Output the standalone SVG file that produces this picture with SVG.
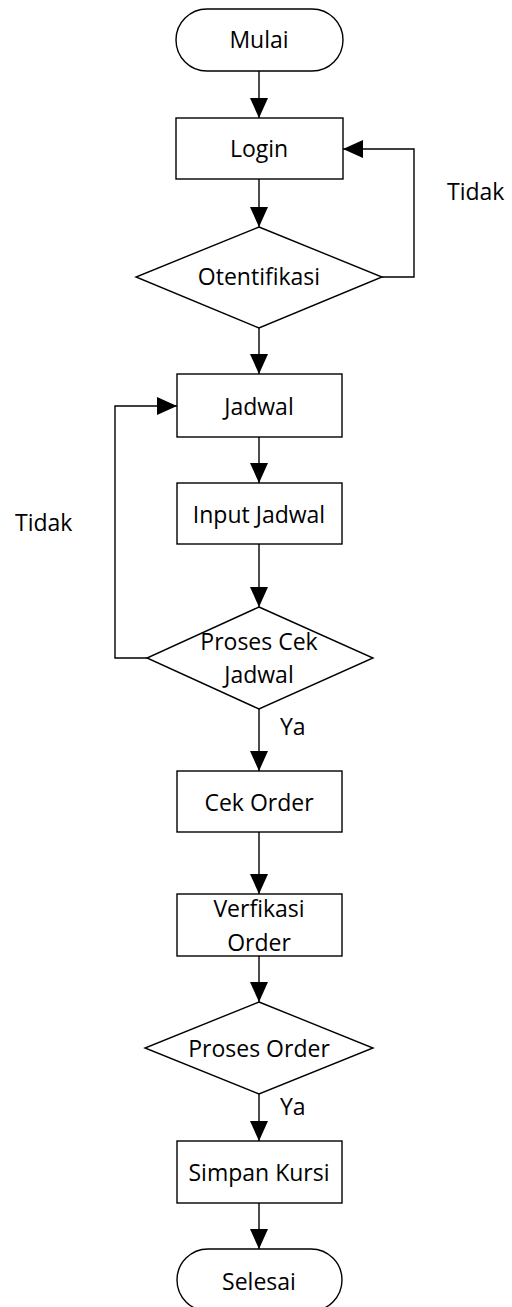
<svg xmlns="http://www.w3.org/2000/svg" width="512" height="1307" viewBox="0 0 512 1307">
<style>
.s{fill:#fff;stroke:#000;stroke-width:1.4}
.t{font-family:"Open Sans",sans-serif;font-size:23px;fill:#000;text-anchor:middle}
.l{font-family:"Open Sans",sans-serif;font-size:23px;fill:#000}
.c{fill:none;stroke:#000;stroke-width:1.4}
</style>
<defs>
<marker id="a" markerUnits="userSpaceOnUse" markerWidth="20" markerHeight="18" viewBox="0 0 20 18" refX="20" refY="9" orient="auto">
<path d="M0,0 L20,9 L0,18 Z" fill="#000"/>
</marker>
</defs>
<g id="connectors">
<path class="c" d="M259,71 V118" marker-end="url(#a)"/>
<path class="c" d="M259,179 V227" marker-end="url(#a)"/>
<path class="c" d="M382,277 H414 V149 H343" marker-end="url(#a)"/>
<path class="c" d="M259,328 V374" marker-end="url(#a)"/>
<path class="c" d="M259,437 V483" marker-end="url(#a)"/>
<path class="c" d="M259,544 V607" marker-end="url(#a)"/>
<path class="c" d="M147,658 H115 V406 H177" marker-end="url(#a)"/>
<path class="c" d="M259,709 V771" marker-end="url(#a)"/>
<path class="c" d="M259,832 V894" marker-end="url(#a)"/>
<path class="c" d="M259,956 V1002" marker-end="url(#a)"/>
<path class="c" d="M259,1094 V1141" marker-end="url(#a)"/>
<path class="c" d="M259,1203 V1249" marker-end="url(#a)"/>
<text class="l" x="447" y="200">Tidak</text>
<text class="l" x="15" y="531">Tidak</text>
<text class="l" x="280" y="735">Ya</text>
<text class="l" x="280" y="1115">Ya</text>
</g>
<g id="mulai"><rect class="s" x="176" y="9" width="167" height="62" rx="31"/><text class="t" x="259" y="48">Mulai</text></g>
<g id="login"><rect class="s" x="176" y="118" width="167" height="61"/><text class="t" x="259" y="157">Login</text></g>
<g id="otentifikasi"><polygon class="s" points="259,227 382,277 259,328 136,277"/><text class="t" x="259" y="285">Otentifikasi</text></g>
<g id="jadwal"><rect class="s" x="177" y="374" width="165" height="63"/><text class="t" x="259" y="415">Jadwal</text></g>
<g id="input-jadwal"><rect class="s" x="177" y="483" width="165" height="61"/><text class="t" x="259" y="523">Input Jadwal</text></g>
<g id="proses-cek-jadwal"><polygon class="s" points="259,607 373,658 259,709 147,658"/><text class="t" x="259" y="650">Proses Cek</text><text class="t" x="259" y="683">Jadwal</text></g>
<g id="cek-order"><rect class="s" x="177" y="771" width="165" height="61"/><text class="t" x="259" y="811">Cek Order</text></g>
<g id="verfikasi-order"><rect class="s" x="177" y="894" width="165" height="62"/><text class="t" x="259" y="917">Verfikasi</text><text class="t" x="259" y="951">Order</text></g>
<g id="proses-order"><polygon class="s" points="259,1002 373,1048 259,1094 145,1048"/><text class="t" x="259" y="1057">Proses Order</text></g>
<g id="simpan-kursi"><rect class="s" x="177" y="1141" width="165" height="62"/><text class="t" x="259" y="1181">Simpan Kursi</text></g>
<g id="selesai"><rect class="s" x="177" y="1249" width="165" height="62" rx="31"/><text class="t" x="259" y="1290">Selesai</text></g>
</svg>
